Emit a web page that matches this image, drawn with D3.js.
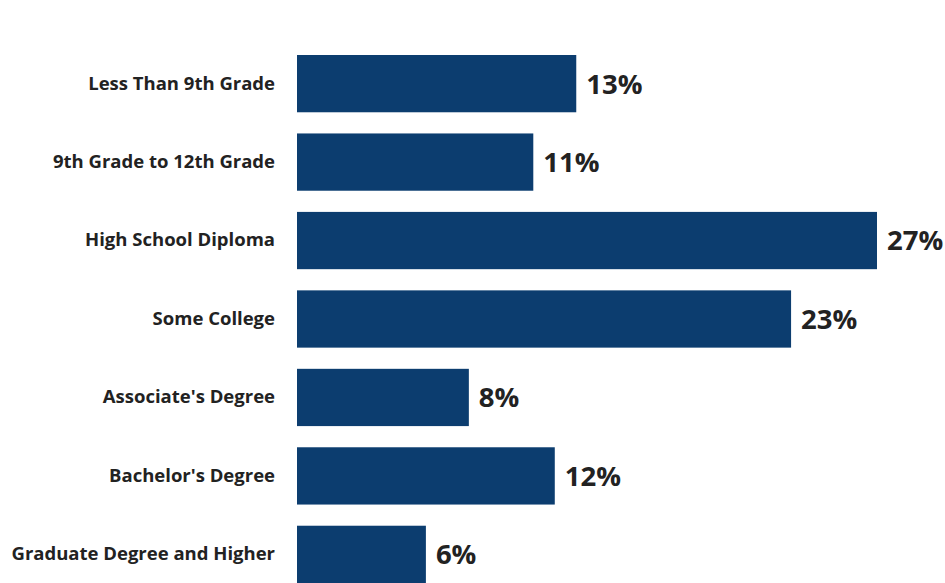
<!DOCTYPE html>
<html>
<head>
<meta charset="utf-8">
<script src="https://cdn.jsdelivr.net/npm/d3@7"></script>
<style>
  html, body { margin: 0; padding: 0; background: #ffffff; }
  svg { display: block; }
</style>
</head>
<body>
<svg id="chart" width="945" height="583"></svg>
<script>
// Educational attainment shares (percent)
const categories = [
  "Less Than 9th Grade",
  "9th Grade to 12th Grade",
  "High School Diploma",
  "Some College",
  "Associate's Degree",
  "Bachelor's Degree",
  "Graduate Degree and Higher"
];
const values = [13, 11, 27, 23, 8, 12, 6];
const valueLabels = ["13%", "11%", "27%", "23%", "8%", "12%", "6%"];

const data = categories.map((c, i) => ({ category: c, value: values[i], label: valueLabels[i] }));

const svg = d3.select("#chart");
const barLeft = 297;
const fontFamily = "'Open Sans', 'Noto Sans', sans-serif";

const x = d3.scaleLinear()
  .domain([0, 27])
  .range([barLeft, 877]);

const y = d3.scaleBand()
  .domain(categories)
  .range([55, 583])
  .paddingInner(0.27)
  .paddingOuter(0);

// Bars
svg.append("g")
  .selectAll("rect")
  .data(data)
  .join("rect")
  .attr("x", x(0))
  .attr("y", d => y(d.category))
  .attr("width", d => x(d.value) - x(0))
  .attr("height", y.bandwidth())
  .attr("fill", "#0c3d6f");

// Category axis (labels only)
const axis = svg.append("g")
  .attr("transform", `translate(${barLeft - 12},0)`)
  .call(d3.axisLeft(y).tickSize(0).tickPadding(10));
axis.select(".domain").remove();
axis.selectAll("text")
  .attr("font-family", fontFamily)
  .attr("font-weight", "bold")
  .attr("font-size", "18.5px")
  .attr("fill", "#222222");

// Value labels
svg.append("g")
  .selectAll("text")
  .data(data)
  .join("text")
  .attr("x", d => x(d.value) + 10)
  .attr("y", d => y(d.category) + y.bandwidth() / 2)
  .attr("dy", "0.36em")
  .attr("font-family", fontFamily)
  .attr("font-weight", "bold")
  .attr("font-size", "27.5px")
  .attr("fill", "#222222")
  .text(d => d.label);
</script>
</body>
</html>
